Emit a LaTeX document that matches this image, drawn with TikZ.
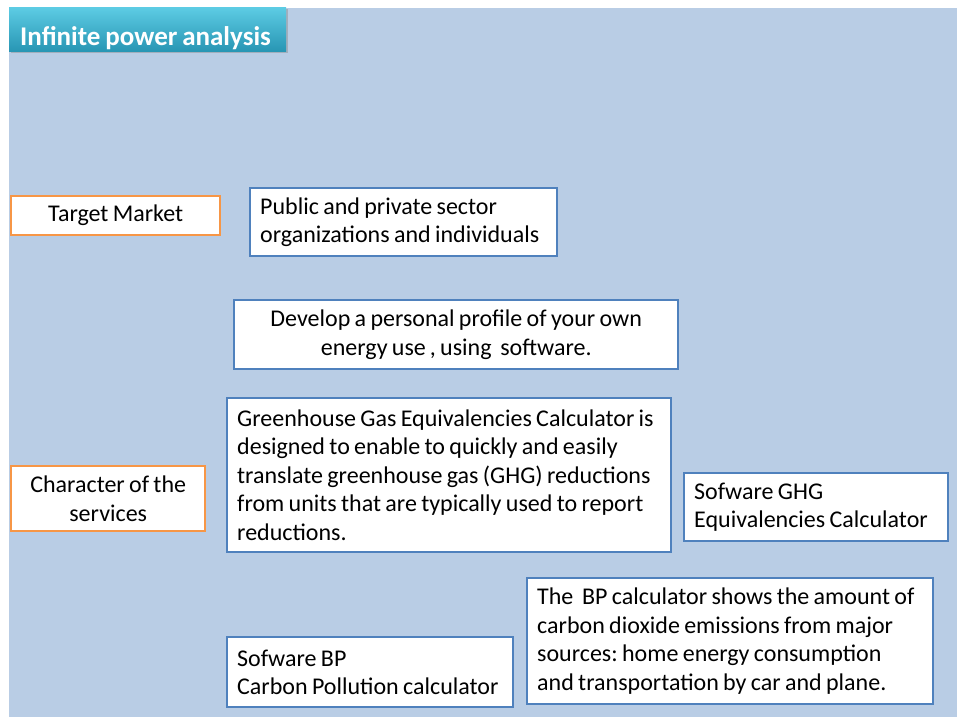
\documentclass[tikz,border=0pt]{standalone}
\usepackage{fontspec}
\setmainfont[WordSpace=0.8]{Carlito}
\usetikzlibrary{shadows}
\frenchspacing

\definecolor{slidebg}{HTML}{B9CDE5}
\definecolor{ofborder}{HTML}{F79646}
\definecolor{bxborder}{HTML}{4F81BD}
\definecolor{titletop}{HTML}{5CCBE3}
\definecolor{titlebot}{HTML}{2795B3}

\begin{document}
\begin{tikzpicture}[x=1pt,y=-1pt,
  font=\fontsize{24}{28.5}\selectfont,
  label box/.style={draw=ofborder,line width=2.4pt,fill=white,anchor=north west,inner sep=0pt,align=center},
  info box/.style={draw=bxborder,line width=2.4pt,fill=white,anchor=north west,inner xsep=10pt,inner ysep=0pt,align=flush left}]

\useasboundingbox (0,0) rectangle (958,717);
\fill[slidebg] (9,8) rectangle (957,717);

% title
\shade[top color=titletop,bottom color=titlebot,drop shadow={shadow xshift=1.5pt,shadow yshift=-1.5pt,opacity=.4}]
  (9,8) rectangle (286,52);
\node[anchor=base west,inner sep=0pt,text=white,font=\fontsize{27}{30}\selectfont\bfseries] (title) at (20,46) {Infinite power analysis};

% left labels
\node[label box,minimum width=209pt,minimum height=39pt] (market) at (10,195) {Target Market};
\node[label box,minimum width=194pt,minimum height=65pt] (character) at (10,465) {Character of the\\services};

% text boxes
\node[info box,minimum height=68pt,text width=287pt] (sector) at (249,187)
  {Public and private sector\\organizations and individuals};
\node[info box,minimum width=444pt,minimum height=69pt,align=center] (profile) at (233,299)
  {Develop a personal profile of your own\\energy use\,,\ using\ \ software.};
\node[info box,minimum height=154pt,text width=424pt] (ghgtext) at (226,397)
  {Greenhouse Gas Equivalencies Calculator is\\
   designed to enable to quickly and easily\\
   translate greenhouse gas (GHG) reductions\\
   from units that are typically used to report\\
   reductions.};
\node[info box,minimum height=68pt,text width=244pt] (ghgsoft) at (683,472)
  {Sofware GHG\\Equivalencies Calculator};
\node[info box,minimum height=126pt,text width=386pt] (bptext) at (526,577)
  {The\ \ BP calculator shows the amount of\\
   carbon dioxide emissions from major\\
   sources: home energy consumption\\
   and transportation by car and plane.};
\node[info box,minimum height=70pt,text width=266pt] (bpsoft) at (226,636)
  {Sofware BP\\Carbon Pollution calculator};

\end{tikzpicture}
\end{document}
